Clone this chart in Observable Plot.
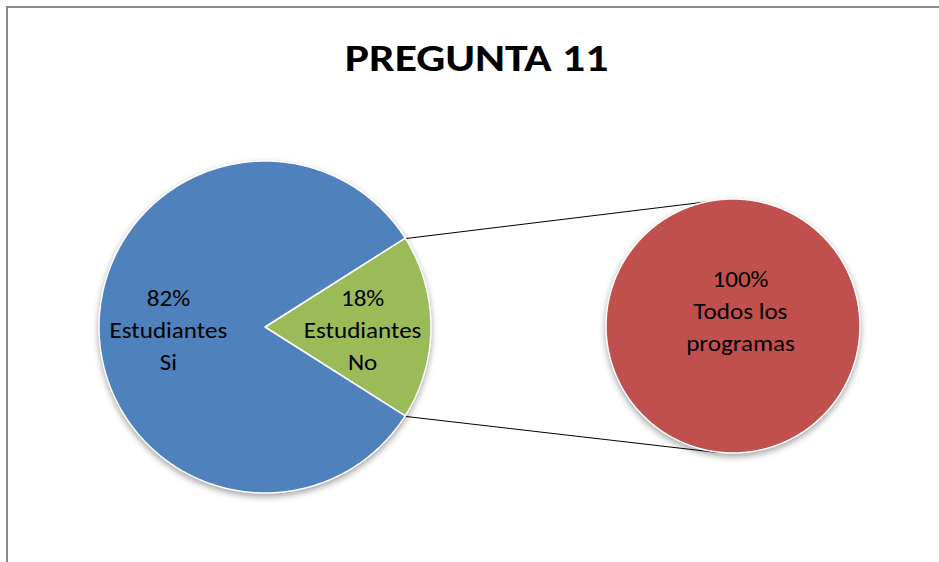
<!DOCTYPE html>
<html><head><meta charset="utf-8">
<script src="https://cdn.jsdelivr.net/npm/d3@7"></script>
<script src="https://cdn.jsdelivr.net/npm/@observablehq/plot@0.6"></script>
<style>
html,body{margin:0;padding:0;background:#fff;}
#wrap{position:relative;width:939px;height:562px;overflow:hidden;background:#fff;}
#border{position:absolute;left:6px;top:6px;width:1200px;height:900px;border-top:2px solid #8a8a8a;border-left:2px solid #8a8a8a;}
#chart{position:absolute;left:0;top:0;}
</style></head>
<body><div id="wrap"><div id="border"></div><div id="chart"></div></div>
<script>
// ---- data ----
const title = "PREGUNTA 11";
const mainCategories = ["Estudiantes No", "Estudiantes Si"];
const mainValues = [18, 82];
const mainPercentLabels = ["18%", "82%"];
const mainColors = ["#9BBB59", "#4F81BD"];
const subCategories = ["Todos los programas"];
const subValues = [100];
const subPercentLabels = ["100%"];
const subColors = ["#C0504D"];

// ---- layout ----
const W = 939, H = 562;
const main = {cx: 265, cy: 327, r: 166};
const sub = {cx: 733, cy: 326, r: 127};
const fontFam = "Carlito, Calibri, Lato, sans-serif";

function wrapLabel(cat) {
  const w = cat.split(" ");
  return w.slice(0, w.length - 1).join(" ") + "\n" + w[w.length - 1];
}

// main pie: first slice (No) centred on the east side
const total = d3.sum(mainValues);
const firstSpan = mainValues[0] / total * 2 * Math.PI;
let start = -firstSpan / 2;
const mainSlices = mainValues.map((v, i) => {
  const span = v / total * 2 * Math.PI;
  const s = {cat: mainCategories[i], a0: start, a1: start + span, color: mainColors[i],
             label: mainPercentLabels[i] + "\n" + wrapLabel(mainCategories[i]), c: main};
  start += span;
  return s;
});
const subTotal = d3.sum(subValues);
let sstart = 0;
const subSlices = subValues.map((v, i) => {
  const span = v / subTotal * 2 * Math.PI;
  const s = {cat: subCategories[i], a0: sstart, a1: sstart + span, color: subColors[i],
             label: subPercentLabels[i] + "\n" + wrapLabel(subCategories[i]), c: sub};
  sstart += span;
  return s;
});
const allSlices = mainSlices.concat(subSlices);

function slicePoly(s) {
  const c = s.c, pts = [];
  const full = (s.a1 - s.a0) >= 2 * Math.PI - 1e-6;
  if (!full) pts.push([c.cx, c.cy]);
  const n = Math.max(8, Math.ceil((s.a1 - s.a0) / (Math.PI / 360)));
  for (let k = 0; k <= n; k++) {
    const a = s.a0 + (s.a1 - s.a0) * k / n;
    pts.push([c.cx + c.r * Math.cos(a), c.cy - c.r * Math.sin(a)]);
  }
  return pts;
}

// custom pie mark drawn through Plot's x/y scales
function pieMark(slices) {
  return (index, scales) => {
    const ns = "http://www.w3.org/2000/svg";
    const g = document.createElementNS(ns, "g");
    g.setAttribute("aria-label", "pie");
    g.style.filter = "drop-shadow(0px 3px 3px rgba(0,0,0,0.35))";
    for (const s of slices) {
      const pts = slicePoly(s).map(([x, y]) => [scales.x(x), scales.y(y)]);
      const p = document.createElementNS(ns, "path");
      p.setAttribute("d", "M" + pts.map(p => p.join(",")).join("L") + "Z");
      p.setAttribute("fill", s.color);
      p.setAttribute("stroke", "#fff");
      p.setAttribute("stroke-width", "1.5");
      p.setAttribute("stroke-linejoin", "round");
      g.appendChild(p);
    }
    return g;
  };
}

// label positions (along mid-angle)
const mainLabelData = mainSlices.map(s => {
  const m = (s.a0 + s.a1) / 2;
  const d = main.r * 0.585;
  return {x: main.cx + d * Math.cos(m), y: main.cy - d * Math.sin(m), text: s.label};
});
const subLabelData = subSlices.map(s => ({x: sub.cx + 7, y: sub.cy - 18, text: s.label}));

// connector lines from the "No" slice edges to top/bottom of the secondary pie
const noSlice = mainSlices[0];
const tilt = 7 * Math.PI / 180;
const connectors = [
  {k: "top", x1: main.cx + main.r * Math.cos(noSlice.a1), y1: main.cy - main.r * Math.sin(noSlice.a1),
   x2: sub.cx - sub.r * Math.sin(tilt), y2: sub.cy - sub.r * Math.cos(tilt)},
  {k: "bottom", x1: main.cx + main.r * Math.cos(noSlice.a0), y1: main.cy - main.r * Math.sin(noSlice.a0),
   x2: sub.cx - sub.r * Math.sin(tilt), y2: sub.cy + sub.r * Math.cos(tilt)}
];

const chart = Plot.plot({
  width: W, height: H, margin: 0,
  x: {type: "linear", domain: [0, W], range: [0, W], axis: null},
  y: {type: "linear", domain: [0, H], range: [0, H], axis: null},
  style: {background: "transparent", fontFamily: fontFam},
  marks: [
    Plot.link(connectors, {x1: "x1", y1: "y1", x2: "x2", y2: "y2", stroke: "#000", strokeWidth: 1}),
    pieMark(allSlices),
    Plot.text(mainLabelData.concat(subLabelData), {x: "x", y: "y", text: "text", fill: "#000", fontSize: 22, lineHeight: 1.45, fontFamily: fontFam}),
    Plot.text([title], {x: () => 476, y: () => 58, text: d => d, fill: "#000", fontSize: 38, fontWeight: "bold", fontFamily: fontFam})
  ]
});
// the reference text is horizontally stretched; mimic with a scaleX
chart.querySelectorAll("text").forEach(t => {
  const isTitle = t.textContent === title;
  const tr = t.getAttribute("transform") || "";
  t.setAttribute("transform", tr + (isTitle ? " scale(1.2,1)" : " scale(1.14,1)"));
});
document.getElementById("chart").appendChild(chart);
</script></body></html>
